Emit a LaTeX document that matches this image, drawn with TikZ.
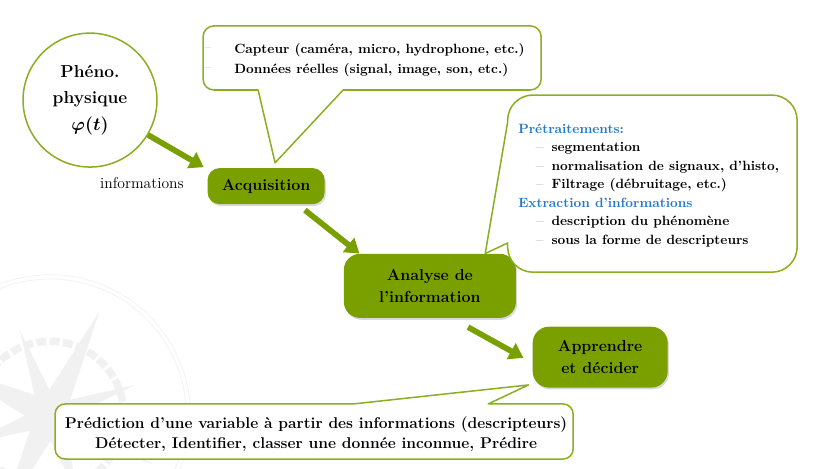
\documentclass[tikz,border=0pt]{standalone}
\usepackage{amsmath}
\usetikzlibrary{arrows.meta,calc,shadows}
\definecolor{leaf}{RGB}{122,160,0}
\definecolor{leafline}{RGB}{138,175,35}
\definecolor{headblue}{RGB}{35,120,200}
\newcommand{\itm}{\hspace*{1.3em}\textcolor{gray!55}{--}\hspace{0.6em}}

\begin{document}
\begin{tikzpicture}[
    stage/.style={rectangle, rounded corners=0.45cm, fill=leaf, font=\fontsize{12.6}{17}\selectfont\bfseries, align=center, drop shadow={opacity=0.3, shadow xshift=1pt, shadow yshift=-1.5pt}},
    bubble/.style={draw=leafline, line width=1.2pt, fill=white, line join=round},
    flow/.style={draw=leaf, line width=4.5pt, -{Triangle[length=11pt,width=14pt]}},
    boxtext/.style={font=\fontsize{10.6}{14.6}\selectfont\bfseries, align=left, inner sep=0pt}
]
\useasboundingbox (0,0) rectangle (22.97,13);

% Compass watermark (background)
\begin{scope}[gray!11]
\clip (0,0) rectangle (22.97,13);
\draw[line width=0.6pt] (1.39,1.47) circle (3.78) (1.39,1.47) circle (3.9);
\draw[line width=6pt, dash pattern=on 8pt off 2.5pt] (1.39,1.47) circle (2.05);
\foreach \a in {64.5,154.5,244.5,334.5}
  \fill[shift={(1.39,1.47)}, rotate=\a] (0,0.4) -- (3.2,0) -- (0,-0.4) -- cycle;
\foreach \a in {109.5,199.5,289.5,19.5}
  \fill[shift={(1.39,1.47)}, rotate=\a] (0,0.3) -- (2.5,0) -- (0,-0.3) -- cycle;
\end{scope}

% Main chain
\node[circle, draw=leafline, line width=1.2pt, minimum size=3.72cm, align=center, font=\fontsize{13.7}{21}\selectfont\bfseries] (phen) at (2.5,10.22) {Phéno.\\physique\\$\boldsymbol{\varphi(t)}$};
\node[stage, minimum width=3.25cm, minimum height=1cm, rounded corners=0.33cm] (acq) at (7.39,7.83) {Acquisition};
\node[stage, minimum width=4.78cm, minimum height=1.78cm] (ana) at (11.94,5.06) {Analyse de\\l'information};
\node[stage, minimum width=3.75cm, minimum height=1.69cm] (app) at (16.67,3.08) {Apprendre\\et décider};
\node[font=\fontsize{12.3}{14}\selectfont] (info) at (3.94,7.92) {informations};

% Arrows
\draw[flow] (phen.-31) -- ($(acq.north west)+(-0.1,0.02)$);
\draw[flow] ($(acq.south)+(1.08,-0.16)$) -- ($(ana.north west)+(0.44,0)$);
\draw[flow] ($(ana.south)+(1.06,-0.25)$) -- ($(app.west)+(-0.25,-0.02)$);

% Callouts
\draw[bubble] (7.17,10.5) [rounded corners=0.3cm] -- (5.64,10.5) -- (5.64,12.28) -- (15.03,12.28) -- (15.03,10.5) [sharp corners] -- (9.53,10.5) -- ($(acq.north)+(0.25,0.14)$) -- cycle;
\draw[bubble] (14.1,6.25) [rounded corners=0.7cm] -- (14.1,5.44) -- (22.14,5.44) -- (22.14,10.36) -- (14.1,10.36) [sharp corners] -- (14.1,9.61) -- ($(ana.north east)+(-0.86,0)$) -- cycle;
\draw[bubble] (9.81,1.78) [rounded corners=0.28cm] -- (1.53,1.78) -- (1.53,0.25) -- (15.92,0.25) -- (15.92,1.78) [sharp corners] -- (13.56,1.78) -- ($(app.south west)+(-0.11,0.08)$) -- cycle;

% Callout texts
\node[boxtext, text=gray!60, anchor=west, font=\fontsize{10.6}{15.8}\selectfont] (dashes) at (5.68,11.33) {--\\--};
\node[boxtext, anchor=west, font=\fontsize{10.6}{15.8}\selectfont\bfseries] (sensors) at (6.5,11.33) {Capteur (caméra, micro, hydrophone, etc.)\\Données réelles (signal, image, son, etc.)};
\node[boxtext, anchor=west] (steps) at (14.39,7.85) {\textcolor{headblue}{Prétraitements:}\\\itm segmentation\\\itm normalisation de signaux, d'histo,\\\itm Filtrage (débruitage, etc.)\\\textcolor{headblue}{Extraction d'informations}\\\itm description du phénomène\\\itm sous la forme de descripteurs};
\node[font=\fontsize{12.3}{15.8}\selectfont\bfseries, align=center] (goal) at (8.78,0.93) {Prédiction d'une variable à partir des informations (descripteurs)\\Détecter, Identifier, classer une donnée inconnue, Prédire};

\end{tikzpicture}
\end{document}
